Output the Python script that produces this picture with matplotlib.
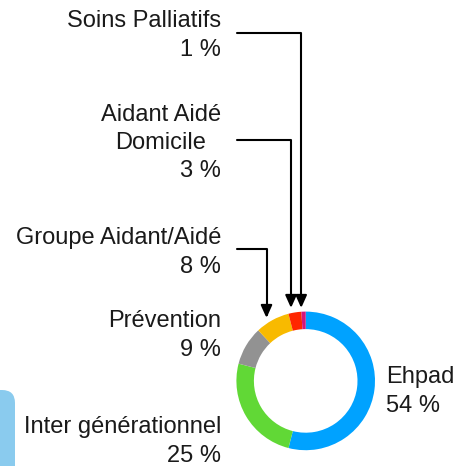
import matplotlib
matplotlib.use("Agg")
import matplotlib.pyplot as plt
from matplotlib.patches import FancyBboxPatch

# data
categories = ["Ehpad", "Inter générationnel", "Prévention",
              "Groupe Aidant/Aidé", "Aidant Aidé\nDomicile", "Soins Palliatifs"]
shares = [54, 25, 9, 8, 3, 1]
colors = ["#00A2FF", "#61D836", "#929292", "#F8BA00", "#FF2600", "#D4157C"]

W, H = 458, 466
FS = 17
LINE = 28.7


def py(y):
    # pixel row (from top) -> data y
    return H - y


def put_label(x, base, name, pct, ha="right"):
    n = name.count("\n")
    ax.text(x, py(base + n * LINE), name, ha=ha, va="baseline", fontsize=FS,
            multialignment="center", linespacing=1.34, color="#1a1a1a")
    ax.text(x, py(base + (n + 1) * LINE), f"{pct} %", ha=ha, va="baseline",
            fontsize=FS, color="#1a1a1a")


plt.rcParams["font.family"] = ["Liberation Sans", "DejaVu Sans"]
fig = plt.figure(figsize=(W / 100, H / 100), dpi=100)
ax = fig.add_axes([0, 0, 1, 1])

ax.pie(shares, colors=colors, startangle=90, counterclock=False,
       radius=69.3, center=(305.7, py(380.9)),
       wedgeprops=dict(width=17.5, linewidth=0))
ax.set_xlim(0, W)
ax.set_ylim(0, H)
ax.set_aspect("equal")
ax.axis("off")

# decorative light-blue tab at bottom left
ax.add_patch(FancyBboxPatch((-40, py(520)), 55, 130,
                            boxstyle="round,pad=0,rounding_size=13",
                            fc="#8ACBEE", ec="none"))

# labels
put_label(221, 26.8, categories[5], shares[5])
put_label(221, 120, categories[4], shares[4])
put_label(221, 244, categories[3], shares[3])
put_label(221, 327, categories[2], shares[2])
put_label(221, 433, categories[1], shares[1])
put_label(386, 383, categories[0], shares[0], ha="left")

# elbow arrows for the small slices
arrows = [(33, 301.2, 308), (139.5, 291, 308), (249, 266.5, 318)]
for y0, xt, yt in arrows:
    ax.annotate("", xy=(xt, py(yt)), xytext=(237, py(y0)),
                arrowprops=dict(arrowstyle="-|>,head_length=7.6,head_width=3.4",
                                connectionstyle="angle,angleA=0,angleB=90,rad=0",
                                mutation_scale=1, lw=1.5, color="black",
                                shrinkA=0, shrinkB=0))

fig.savefig("out.png", dpi=100)
